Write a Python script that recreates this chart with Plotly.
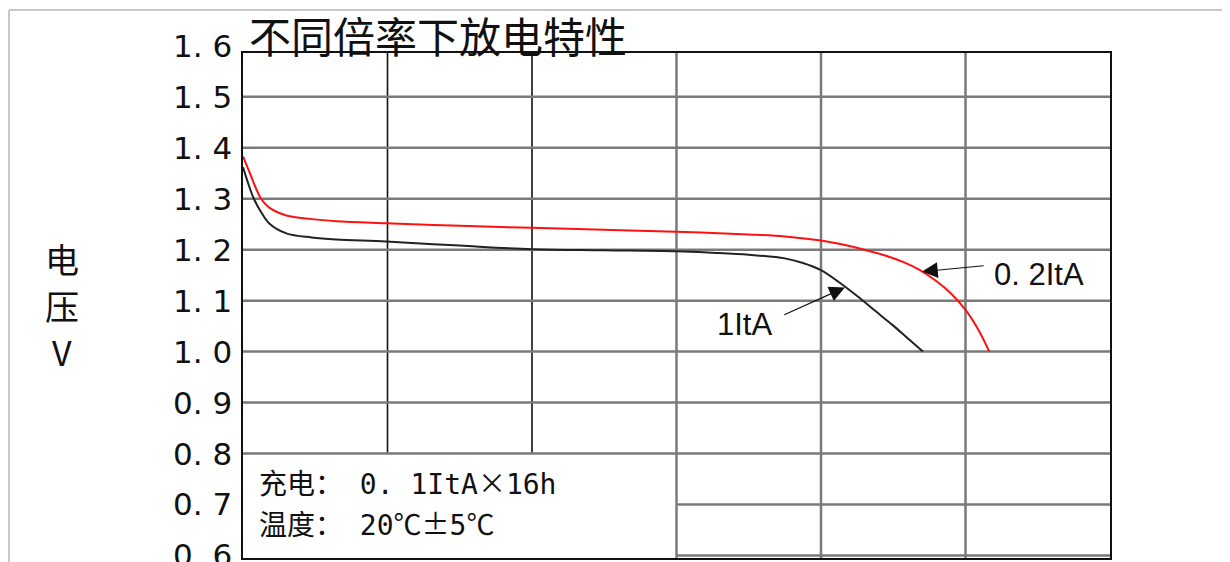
import plotly.graph_objects as go

# ---------------- data ----------------
TITLE = "不同倍率下放电特性"
Y_LABEL = ["电", "压", "V"]

# discharge curves: x = position along the (unlabelled) horizontal axis, V = voltage
RED_NAME = "0. 2ItA"
RED_X = [0, 0.9, 2.5, 3.6, 6.0, 9.5, 12.9, 19.8, 30, 40, 50, 60, 65, 70, 75, 80, 83, 86, 89, 91.5, 93.7, 96, 98,
         100, 101.7, 103.3]
RED_V = [1.383, 1.352, 1.300, 1.283, 1.267, 1.260, 1.256, 1.252, 1.247, 1.243, 1.239, 1.235, 1.233, 1.230, 1.226,
         1.218, 1.210, 1.200, 1.188, 1.175, 1.160, 1.138, 1.114, 1.082, 1.045, 1.000]

BLACK_NAME = "1ItA"
BLACK_X = [0, 0.6, 1.5, 2.5, 3.6, 6.0, 9.5, 12.9, 19.8, 30, 40, 50, 60, 65, 70, 75, 77.5, 80, 82.5, 85, 87.5, 90,
           92, 94.1]
BLACK_V = [1.362, 1.335, 1.300, 1.274, 1.252, 1.232, 1.224, 1.220, 1.216, 1.208, 1.201, 1.199, 1.197, 1.194, 1.190,
           1.183, 1.174, 1.160, 1.136, 1.109, 1.080, 1.051, 1.026, 1.000]

X_GRID = [0, 20, 40, 60, 80, 100, 120]
Y_TICKS = [0.6, 0.7, 0.8, 0.9, 1.0, 1.1, 1.2, 1.3, 1.4, 1.5, 1.6]
Y_TICK_LABELS = ["0. 6", "0. 7", "0. 8", "0. 9", "1. 0", "1. 1", "1. 2", "1. 3", "1. 4", "1. 5", "1. 6"]

NOTE_LINES = ["充电： 0. 1ItA×16h", "温度： 20℃±5℃"]

# ---------------- layout constants ----------------
W, H = 1230, 562
OFF = 8                      # page body margin of the html page
ML, MR, MT, MB = 235, 128, 45, 12
X_RANGE = [0, 120]
Y_RANGE = [0.595, 1.586]
NOTE_X_MAX = 60              # the note area occupies the lower-left cells
NOTE_Y_MAX = 0.8

PW = W - ML - MR
PH = H - MT - MB


def sx(p):
    """screen pixel x -> paper x"""
    return (p - OFF - ML) / PW


def sy(p):
    """screen pixel y -> paper y"""
    return (H - MB - (p - OFF)) / PH


def vy(v):
    """data value -> paper y"""
    return (v - Y_RANGE[0]) / (Y_RANGE[1] - Y_RANGE[0])


CJK = "Noto Sans CJK SC"
NOTE_FONT = "DejaVu Sans Mono, Noto Sans Mono CJK SC, Noto Sans CJK SC"
FULL_WIDTH_SYMBOLS = "×±℃"


def note_markup(text):
    # draw the full-width symbols with the CJK face, the rest with the mono face
    out = ""
    for ch in text:
        if ch in FULL_WIDTH_SYMBOLS:
            out += "<span style='font-family:Noto Sans CJK SC'>" + ch + "</span>"
        else:
            out += ch
    return out


fig = go.Figure()

fig.add_trace(go.Scatter(x=RED_X, y=RED_V, mode="lines", name=RED_NAME,
                         line=dict(color="#ff1010", width=2, shape="spline", smoothing=1.0),
                         hoverinfo="skip"))
fig.add_trace(go.Scatter(x=BLACK_X, y=BLACK_V, mode="lines", name=BLACK_NAME,
                         line=dict(color="#222222", width=2, shape="spline", smoothing=1.0),
                         hoverinfo="skip"))

shapes = []
# vertical grid lines
for gx in X_GRID[1:-1]:
    in_note = gx < NOTE_X_MAX
    shapes.append(dict(type="line", xref="x", yref="y", layer="below",
                       x0=gx, x1=gx, y0=NOTE_Y_MAX if in_note else Y_RANGE[0], y1=Y_RANGE[1],
                       line=dict(color="#111111" if in_note else "#7a7a7a", width=1.6 if in_note else 2.5)))
# horizontal grid lines
for gy in Y_TICKS:
    if Y_RANGE[0] < gy < Y_RANGE[1]:
        shapes.append(dict(type="line", xref="x", yref="y", layer="below",
                           x0=NOTE_X_MAX if gy < NOTE_Y_MAX - 1e-9 else X_RANGE[0], x1=X_RANGE[1],
                           y0=gy, y1=gy,
                           line=dict(color="#7a7a7a", width=2.5)))
# light page frame (top and left)
shapes.append(dict(type="line", xref="paper", yref="paper",
                   x0=sx(9), x1=sx(W + 20), y0=sy(10), y1=sy(10),
                   line=dict(color="#c8c8c8", width=2)))
shapes.append(dict(type="line", xref="paper", yref="paper",
                   x0=sx(9), x1=sx(9), y0=sy(10), y1=sy(H + 20),
                   line=dict(color="#c8c8c8", width=2)))

annotations = []
# title
annotations.append(dict(text=TITLE, xref="paper", yref="paper", x=sx(247), y=sy(35),
                        xanchor="left", yanchor="middle", showarrow=False,
                        font=dict(family=CJK, size=42, color="#111111")))
# y tick labels
for v, t in zip(Y_TICKS, Y_TICK_LABELS):
    annotations.append(dict(text=t, xref="paper", yref="paper", x=0, y=vy(v), xshift=-9,
                            xanchor="right", yanchor="middle", showarrow=False,
                            font=dict(family="DejaVu Sans", size=31, color="#111111")))
# y axis title (stacked characters)
for ch, py in zip(Y_LABEL, [258, 305, 351]):
    annotations.append(dict(text=ch, xref="paper", yref="paper", x=sx(62), y=sy(py),
                            xanchor="center", yanchor="middle", showarrow=False,
                            font=dict(family=CJK, size=34, color="#111111")))
# curve labels with arrows
annotations.append(dict(text="", x=94.0, y=1.157, xref="x", yref="y", ax=63, ay=-6,
                        showarrow=True, arrowhead=2, arrowsize=2.6, arrowwidth=1.2, arrowcolor="#111111"))
annotations.append(dict(text=RED_NAME, x=103.6, y=1.152, xref="x", yref="y", xanchor="left", yanchor="middle",
                        showarrow=False, font=dict(family="Liberation Sans", size=31, color="#111111")))
annotations.append(dict(text="", x=83.3, y=1.126, xref="x", yref="y", ax=-62, ay=28,
                        showarrow=True, arrowhead=2, arrowsize=2.6, arrowwidth=1.2, arrowcolor="#111111"))
annotations.append(dict(text=BLACK_NAME, x=65.3, y=1.053, xref="x", yref="y", xanchor="left", yanchor="middle",
                        showarrow=False, font=dict(family="Liberation Sans", size=31, color="#111111")))
# note text in the lower-left cells
for line_text, ly in zip(NOTE_LINES, [0.745, 0.663]):
    annotations.append(dict(text=note_markup(line_text), x=1.9, y=ly, xref="x", yref="y",
                            xanchor="left", yanchor="middle", showarrow=False,
                            font=dict(family=NOTE_FONT, size=28, color="#111111")))

fig.update_layout(
    width=W, height=H,
    margin=dict(l=ML, r=MR, t=MT, b=MB, pad=0),
    paper_bgcolor="white", plot_bgcolor="white",
    showlegend=False,
    shapes=shapes,
    annotations=annotations,
    xaxis=dict(range=X_RANGE, showgrid=False, zeroline=False, showticklabels=False, ticks="",
               showline=True, mirror=True, linecolor="#111111", linewidth=2, fixedrange=True),
    yaxis=dict(range=Y_RANGE, showgrid=False, zeroline=False, showticklabels=False, ticks="",
               showline=True, mirror=True, linecolor="#111111", linewidth=2, fixedrange=True),
)

fig.write_html("out.html", config={"displayModeBar": False})
